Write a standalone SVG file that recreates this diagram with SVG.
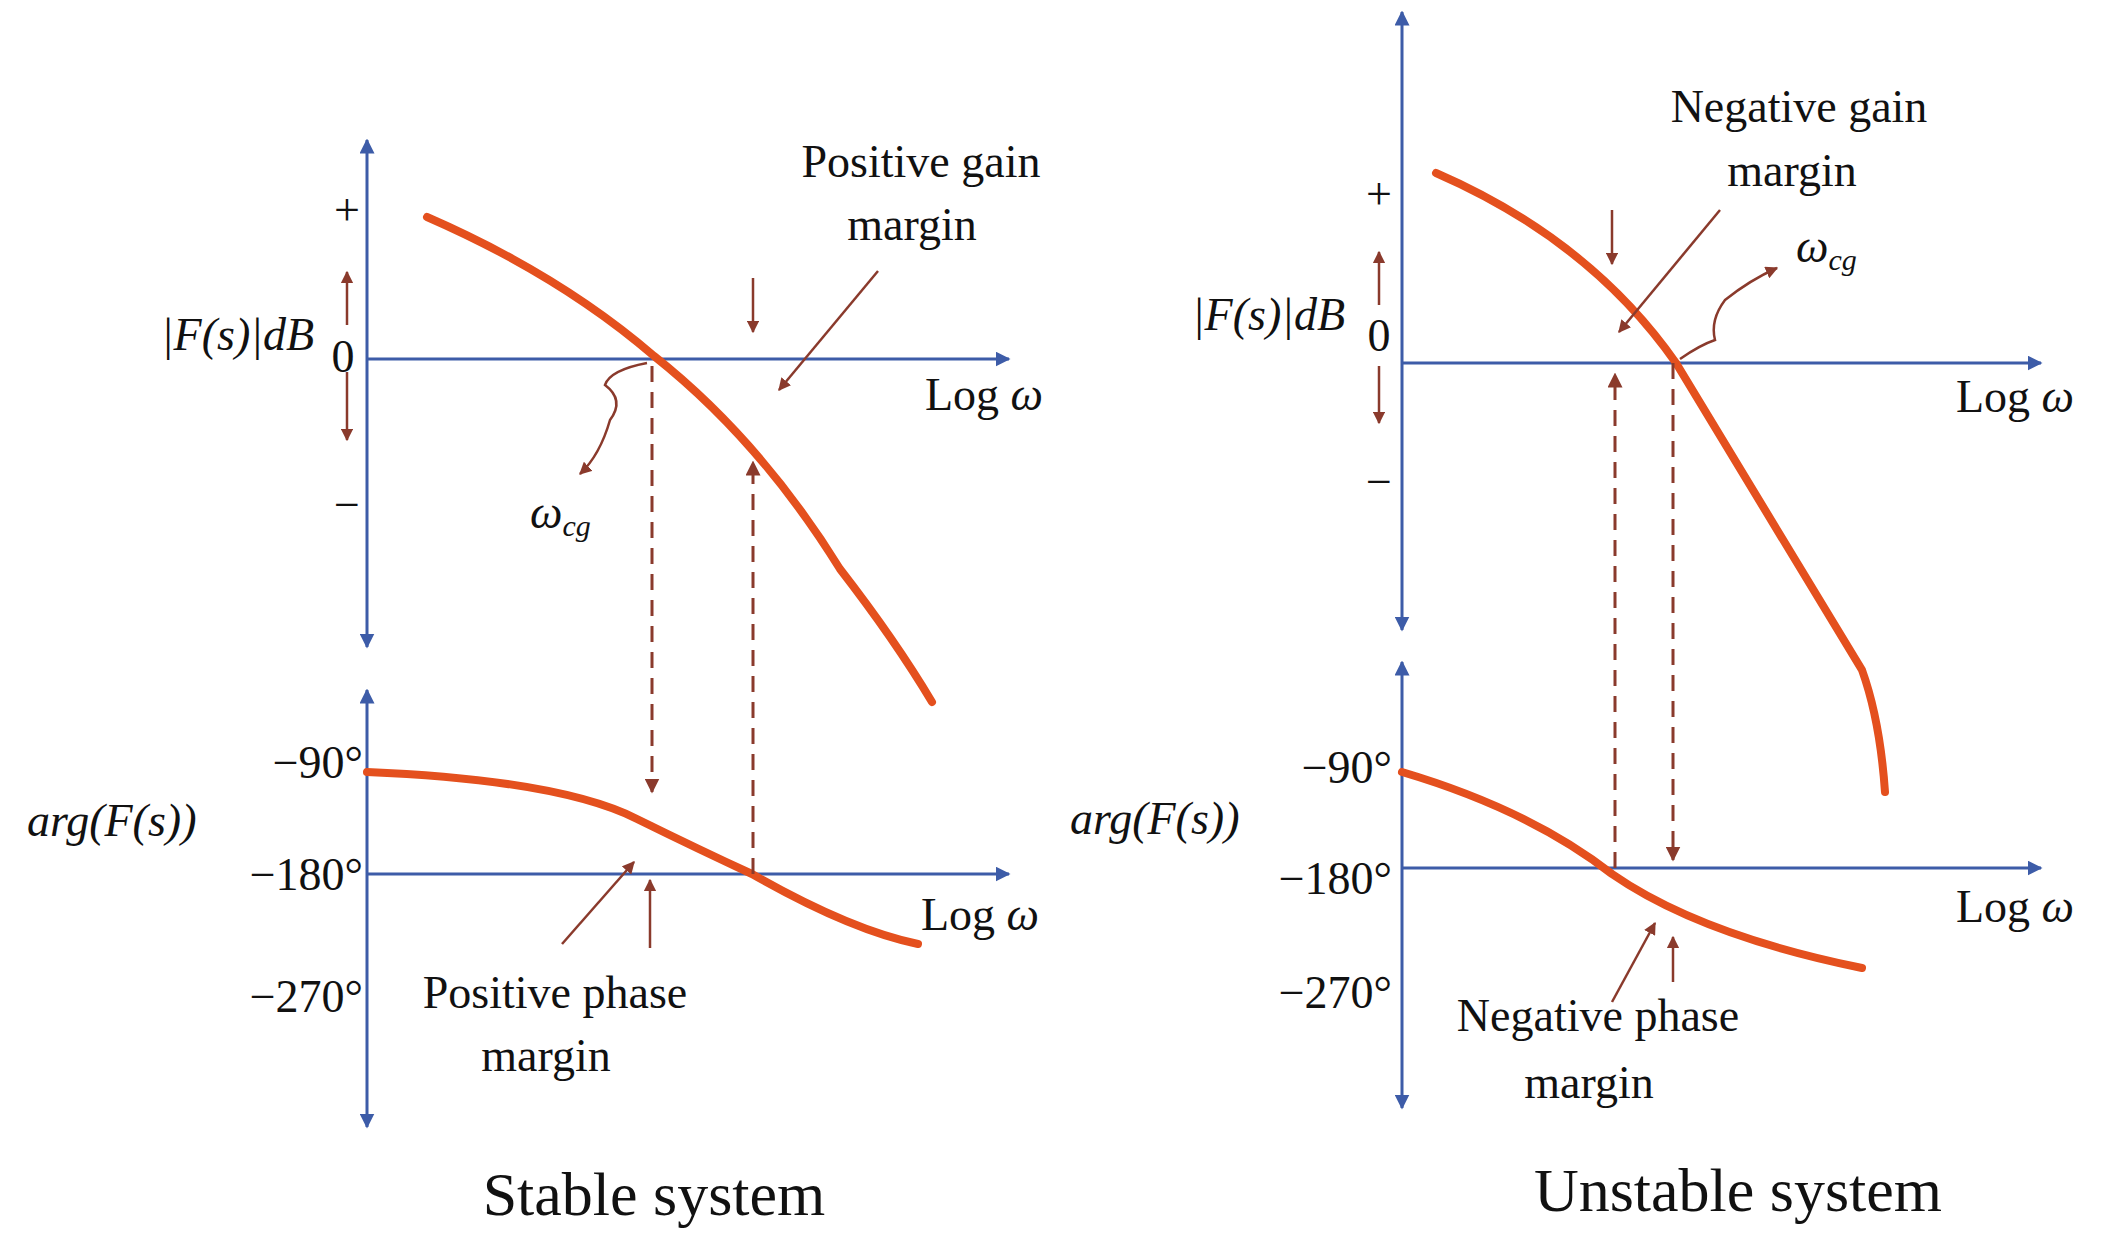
<svg xmlns="http://www.w3.org/2000/svg" width="2113" height="1251" viewBox="0 0 2113 1251">
<style>
.ax{stroke:#3d5ca8;stroke-width:3;fill:none}
.cv{stroke:#e4501e;stroke-width:8;fill:none;stroke-linecap:round}
.br{stroke:#8a3a2c;stroke-width:2.5;fill:none}
.ds{stroke:#8a3a2c;stroke-width:3;fill:none;stroke-dasharray:16 10}
text{font-family:"Liberation Serif","DejaVu Serif",serif;fill:#111}
.t{font-size:46px}
.i{font-size:46px;font-style:italic}
.big{font-size:62px}
</style>
<defs>
<marker id="ab" viewBox="0 0 10 10" refX="9" refY="5" markerWidth="5" markerHeight="5" orient="auto-start-reverse"><path d="M0,0 L10,5 L0,10 z" fill="#3d5ca8"/></marker>
<marker id="ar" viewBox="0 0 10 10" refX="9" refY="5" markerWidth="5" markerHeight="5" orient="auto-start-reverse"><path d="M0,0 L10,5 L0,10 z" fill="#8a3a2c"/></marker>
</defs>
<g id="connectors">
<!-- left axes -->
<line class="ax" x1="367" y1="647" x2="367" y2="140" marker-start="url(#ab)" marker-end="url(#ab)"/>
<line class="ax" x1="367" y1="359" x2="1009" y2="359" marker-end="url(#ab)"/>
<line class="ax" x1="367" y1="1127" x2="367" y2="690" marker-start="url(#ab)" marker-end="url(#ab)"/>
<line class="ax" x1="367" y1="874" x2="1009" y2="874" marker-end="url(#ab)"/>
<!-- right axes -->
<line class="ax" x1="1402" y1="630" x2="1402" y2="12" marker-start="url(#ab)" marker-end="url(#ab)"/>
<line class="ax" x1="1402" y1="363" x2="2041" y2="363" marker-end="url(#ab)"/>
<line class="ax" x1="1402" y1="1108" x2="1402" y2="662" marker-start="url(#ab)" marker-end="url(#ab)"/>
<line class="ax" x1="1402" y1="868" x2="2041" y2="868" marker-end="url(#ab)"/>
<!-- left curves -->
<path class="cv" d="M427,217 Q560,275 654,356 Q760,440 840,569 Q895,640 932,702"/>
<path class="cv" d="M367,772 Q560,780 637,819 Q700,850 752,874 Q850,930 918,944"/>
<!-- right curves -->
<path class="cv" d="M1436,173 Q1590,240 1676,363 L1862,670 Q1880,720 1885,792"/>
<path class="cv" d="M1402,772 Q1530,810 1612,874 Q1700,935 1862,968"/>
<!-- left brown -->
<line class="br" x1="347" y1="325" x2="347" y2="272" marker-end="url(#ar)"/>
<line class="br" x1="347" y1="372" x2="347" y2="440" marker-end="url(#ar)"/>
<line class="ds" x1="652" y1="366" x2="652" y2="792" marker-end="url(#ar)"/>
<line class="ds" x1="753" y1="874" x2="753" y2="462" marker-end="url(#ar)"/>
<line class="br" x1="753" y1="278" x2="753" y2="332" marker-end="url(#ar)"/>
<line class="br" x1="878" y1="271" x2="779" y2="390" marker-end="url(#ar)"/>
<path class="br" d="M647,363 Q610,370 605,385 Q625,400 610,420 Q600,455 580,474" marker-end="url(#ar)"/>
<line class="br" x1="562" y1="944" x2="634" y2="862" marker-end="url(#ar)"/>
<line class="br" x1="650" y1="948" x2="650" y2="880" marker-end="url(#ar)"/>
<!-- right brown -->
<line class="br" x1="1379" y1="305" x2="1379" y2="252" marker-end="url(#ar)"/>
<line class="br" x1="1379" y1="366" x2="1379" y2="423" marker-end="url(#ar)"/>
<line class="ds" x1="1615" y1="868" x2="1615" y2="374" marker-end="url(#ar)"/>
<line class="ds" x1="1673" y1="363" x2="1673" y2="860" marker-end="url(#ar)"/>
<line class="br" x1="1612" y1="210" x2="1612" y2="264" marker-end="url(#ar)"/>
<line class="br" x1="1720" y1="210" x2="1619" y2="332" marker-end="url(#ar)"/>
<path class="br" d="M1680,359 Q1700,345 1715,340 Q1710,320 1725,300 Q1750,280 1777,268" marker-end="url(#ar)"/>
<line class="br" x1="1612" y1="1002" x2="1655" y2="923" marker-end="url(#ar)"/>
<line class="br" x1="1673" y1="982" x2="1673" y2="937" marker-end="url(#ar)"/>
</g>
<g id="stable-labels">
<text class="t" x="347" y="225" text-anchor="middle">+</text>
<text class="t" x="343" y="372" text-anchor="middle">0</text>
<text class="t" x="347" y="520" text-anchor="middle">−</text>
<text class="i" x="314" y="350" text-anchor="end">|F(s)|dB</text>
<text class="t" x="921" y="177" text-anchor="middle">Positive gain</text>
<text class="t" x="912" y="240" text-anchor="middle">margin</text>
<text class="t" x="925" y="410">Log <tspan font-style="italic">ω</tspan></text>
<text class="i" x="530" y="528">ω<tspan font-size="30" dy="8">cg</tspan></text>
<text class="t" x="363" y="778" text-anchor="end">−90°</text>
<text class="i" x="27" y="836">arg(F(s))</text>
<text class="t" x="363" y="890" text-anchor="end">−180°</text>
<text class="t" x="921" y="930">Log <tspan font-style="italic">ω</tspan></text>
<text class="t" x="363" y="1012" text-anchor="end">−270°</text>
<text class="t" x="555" y="1008" text-anchor="middle">Positive phase</text>
<text class="t" x="546" y="1071" text-anchor="middle">margin</text>
<text class="big" x="654" y="1215" text-anchor="middle">Stable system</text>
</g>
<g id="unstable-labels">
<text class="t" x="1379" y="209" text-anchor="middle">+</text>
<text class="t" x="1379" y="351" text-anchor="middle">0</text>
<text class="t" x="1379" y="497" text-anchor="middle">−</text>
<text class="i" x="1345" y="330" text-anchor="end">|F(s)|dB</text>
<text class="t" x="1799" y="122" text-anchor="middle">Negative gain</text>
<text class="t" x="1792" y="186" text-anchor="middle">margin</text>
<text class="t" x="1956" y="412">Log <tspan font-style="italic">ω</tspan></text>
<text class="i" x="1796" y="262">ω<tspan font-size="30" dy="8">cg</tspan></text>
<text class="t" x="1392" y="783" text-anchor="end">−90°</text>
<text class="i" x="1070" y="834">arg(F(s))</text>
<text class="t" x="1392" y="894" text-anchor="end">−180°</text>
<text class="t" x="1956" y="922">Log <tspan font-style="italic">ω</tspan></text>
<text class="t" x="1392" y="1008" text-anchor="end">−270°</text>
<text class="t" x="1598" y="1031" text-anchor="middle">Negative phase</text>
<text class="t" x="1589" y="1098" text-anchor="middle">margin</text>
<text class="big" x="1738" y="1211" text-anchor="middle">Unstable system</text>
</g>
</svg>
